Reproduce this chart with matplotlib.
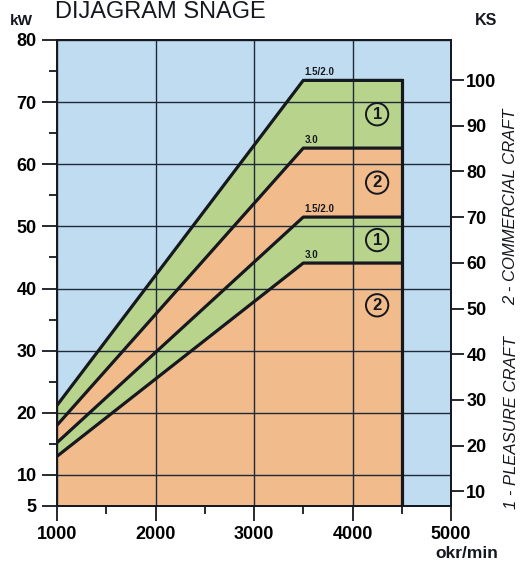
import numpy as np
import matplotlib
matplotlib.use("Agg")
import matplotlib.pyplot as plt

plt.rcParams['font.family'] = ['Liberation Sans', 'DejaVu Sans']

# podaci ocitani s dijagrama (kW pri okr/min)
rpm = [1000, 3500, 4500]
commercial_15 = [21.2, 73.5, 73.5]   # 2 - commercial, 1.5/2.0
commercial_30 = [18.0, 62.6, 62.6]   # 2 - commercial, 3.0
pleasure_15 = [15.2, 51.5, 51.5]     # 1 - pleasure, 1.5/2.0
pleasure_30 = [13.0, 44.1, 44.1]     # 1 - pleasure, 3.0
kw_min, kw_max = 5, 80
kw_per_ks = 0.7355

x_ticks = [1000, 2000, 3000, 4000, 5000]
kw_ticks = [5, 10, 20, 30, 40, 50, 60, 70, 80]
ks_ticks = [10, 20, 30, 40, 50, 60, 70, 80, 90, 100]

blue = '#c0dcf0'
green = '#b8d48c'
orange = '#f1bb8b'
dark = '#15181f'

fig = plt.figure(figsize=(5.21, 5.61), dpi=100)
ax = fig.add_axes([57 / 521, 1 - 506 / 561, 394 / 521, 466 / 561])
ax.set_facecolor(blue)

ax.fill_between(rpm, commercial_15, commercial_30, color=green, lw=0, zorder=1)
ax.fill_between(rpm, commercial_30, pleasure_15, color=orange, lw=0, zorder=1)
ax.fill_between(rpm, pleasure_15, pleasure_30, color=green, lw=0, zorder=1)
ax.fill_between(rpm, pleasure_30, kw_min, color=orange, lw=0, zorder=1)

for curve in [commercial_15, commercial_30, pleasure_15, pleasure_30]:
    ax.plot(rpm, curve, color=dark, lw=2.3, zorder=4, solid_capstyle='butt')
ax.plot([rpm[-1], rpm[-1]], [kw_min, commercial_15[-1]], color=dark, lw=2.3, zorder=4)

# oznake linija
for curve, lab in [(commercial_15, '1.5/2.0'), (commercial_30, '3.0'),
                   (pleasure_15, '1.5/2.0'), (pleasure_30, '3.0')]:
    ax.annotate(lab, (rpm[1], curve[1]), xytext=(1, 2.5), textcoords='offset points',
                ha='left', va='bottom', fontsize=7, fontweight='bold', color=dark, zorder=5)

# brojevi u krugu
circle_y = [(commercial_15[1] + commercial_30[1]) / 2,
            (commercial_30[1] + pleasure_15[1]) / 2,
            (pleasure_15[1] + pleasure_30[1]) / 2,
            37.3]
circle_lab = ['1', '2', '1', '2']
for yy, lab in zip(circle_y, circle_lab):
    ax.text(4250, yy, lab, ha='center', va='center', fontsize=12,
            fontweight='bold', color=dark, zorder=5,
            bbox=dict(boxstyle='circle,pad=0.22', fc='none', ec=dark, lw=1.4))

ax.set_xlim(1000, 5000)
ax.set_ylim(kw_min, kw_max)
ax.set_xticks(x_ticks)
ax.set_xticks([1500, 2500, 3500, 4500], minor=True)
ax.set_yticks(kw_ticks)
ax.set_yticks([15, 25, 35, 45, 55, 65, 75], minor=True)
ax.set_xticklabels([str(v) for v in x_ticks])
ax.set_yticklabels([str(v) for v in kw_ticks])

ax.grid(True, which='major', color='#1e2a3a', lw=1.0)
ax.set_axisbelow(False)
for gl in ax.get_xgridlines() + ax.get_ygridlines():
    gl.set_zorder(2)

ax.tick_params(which='major', direction='out', length=10.5, width=1.3, color=dark,
               labelsize=13, pad=4)
ax.tick_params(which='minor', direction='out', length=5.5, width=1.3, color=dark)
for lbl in ax.get_xticklabels() + ax.get_yticklabels():
    lbl.set_fontweight('bold')
for s in ax.spines.values():
    s.set_linewidth(1.3)
    s.set_color(dark)

ax2 = ax.twinx()
ax2.set_ylim(kw_min / kw_per_ks, kw_max / kw_per_ks)
ax2.set_yticks(ks_ticks)
ax2.set_yticklabels([str(v) for v in ks_ticks])
ax2.tick_params(direction='out', length=9, width=1.3, color=dark, labelsize=13, pad=2)
for lbl in ax2.get_yticklabels():
    lbl.set_fontweight('bold')
for s in ax2.spines.values():
    s.set_linewidth(1.3)
    s.set_color(dark)

fig.text(55 / 521, 1 - 18 / 561, 'DIJAGRAM SNAGE', fontsize=17, ha='left',
         va='baseline', color=dark)
fig.text(10 / 521, 1 - 25 / 561, 'kW', fontsize=11, fontweight='bold', ha='left',
         va='baseline', color=dark)
fig.text(475 / 521, 1 - 25 / 561, 'KS', fontsize=11.5, fontweight='bold', ha='left',
         va='baseline', color=dark)
fig.text(498 / 521, 1 - 558 / 561, 'okr/min', fontsize=12.5, fontweight='bold',
         ha='right', va='baseline', color=dark)
fig.text(511 / 521, 1 - 423 / 561, '1 - PLEASURE CRAFT', fontsize=12, style='italic',
         rotation=90, ha='center', va='center', color=dark)
fig.text(511 / 521, 1 - 207 / 561, '2 - COMMERCIAL CRAFT', fontsize=12, style='italic',
         rotation=90, ha='center', va='center', color=dark)

fig.savefig('out.png', dpi=100, facecolor='white')
